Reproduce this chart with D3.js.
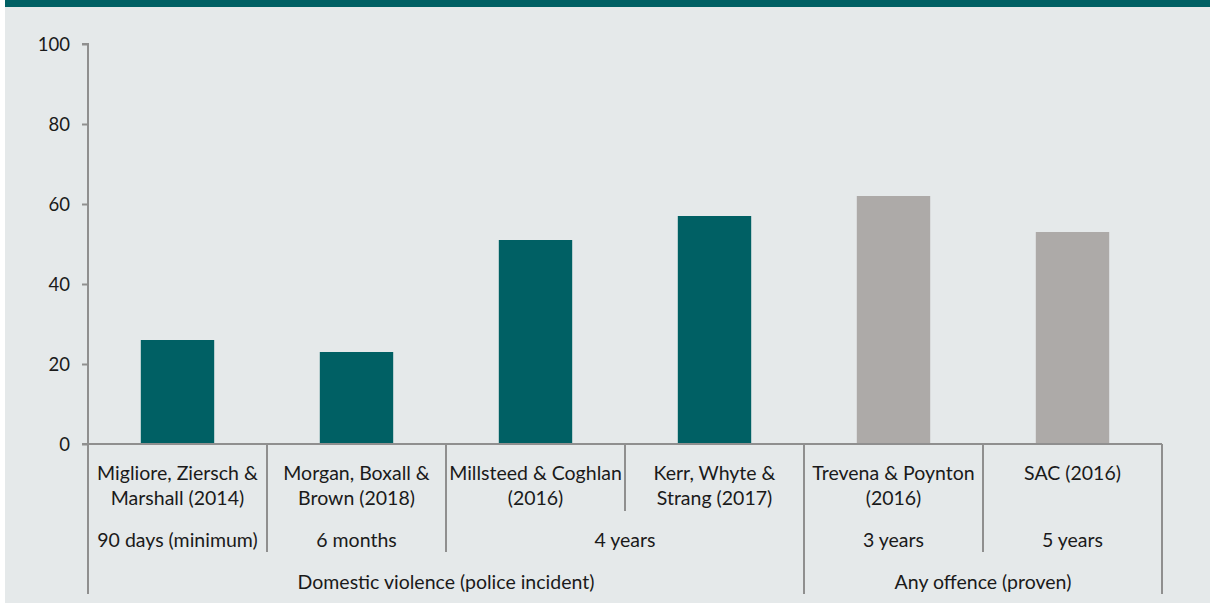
<!DOCTYPE html>
<html>
<head>
<meta charset="utf-8">
<script src="https://cdn.jsdelivr.net/npm/d3@7"></script>
<style>
  html, body { margin: 0; padding: 0; background: #ffffff; }
  svg { display: block; }
  text { font-family: Lato, "Open Sans", sans-serif; fill: #1a1a1a; }
</style>
</head>
<body>
<svg id="chart" width="1210" height="605"></svg>
<script>
// ---- data ----
const categories = [
  "Migliore, Ziersch &|Marshall (2014)",
  "Morgan, Boxall &|Brown (2018)",
  "Millsteed & Coghlan|(2016)",
  "Kerr, Whyte &|Strang (2017)",
  "Trevena & Poynton|(2016)",
  "SAC (2016)"
];
const values = [26, 23, 51, 57, 62, 53];
const durationLabels = ["90 days (minimum)", "6 months", "4 years", "3 years", "5 years"];
const durationSpans = [1, 1, 2, 1, 1];
const groupLabels = ["Domestic violence (police incident)", "Any offence (proven)"];
const groupSpans = [4, 2];
const groupColors = ["#006064", "#adaaa8"];
const yTicks = [0, 20, 40, 60, 80, 100];

// ---- layout ----
const W = 1210, H = 605;
const svg = d3.select("#chart");
const axisColor = "#8f8f8f";

svg.append("rect").attr("x", 5).attr("y", 0).attr("width", W - 5).attr("height", 7).attr("fill", "#006064");
svg.append("rect").attr("x", 5).attr("y", 7).attr("width", W - 5).attr("height", 596).attr("fill", "#e5e9ea");

const x = d3.scaleBand().domain(categories).range([88, 1162]).padding(0);
const y = d3.scaleLinear().domain([0, 100]).range([444, 44]);

// group index per category
const groupOf = [];
groupSpans.forEach((s, gi) => { for (let k = 0; k < s; k++) groupOf.push(gi); });

// bars
const barW = x.bandwidth() * 0.41;
svg.append("g").selectAll("rect").data(categories).join("rect")
  .attr("x", d => x(d) + (x.bandwidth() - barW) / 2)
  .attr("y", (d, i) => y(values[i]))
  .attr("width", barW)
  .attr("height", (d, i) => y(0) - y(values[i]))
  .attr("fill", (d, i) => groupColors[groupOf[i]]);

// y axis
const yAxis = d3.axisLeft(y).tickValues(yTicks).tickSize(6).tickPadding(11);
const gy = svg.append("g").attr("transform", "translate(88,0)").call(yAxis);
gy.select(".domain").attr("stroke", axisColor).attr("stroke-width", 2).attr("d", "M-6,44H0V444");
gy.selectAll(".tick line").attr("stroke", axisColor).attr("stroke-width", 2);
gy.selectAll(".tick text").attr("font-size", 18.5).attr("font-family", "Lato, sans-serif").attr("fill", "#1a1a1a").attr("dy", "0.36em").attr("dx", "-1");

// x axis baseline
svg.append("line").attr("x1", 82).attr("x2", 1162).attr("y1", y(0)).attr("y2", y(0))
  .attr("stroke", axisColor).attr("stroke-width", 2);

// dividers
const durBounds = new Set(); let acc = 0;
durationSpans.forEach(s => { acc += s; durBounds.add(acc); });
const grpBounds = new Set(); acc = 0;
groupSpans.forEach(s => { acc += s; grpBounds.add(acc); });
const bounds = d3.range(categories.length + 1);
const bx = i => i < categories.length ? x(categories[i]) : x.range()[1];
svg.append("g").selectAll("line").data(bounds).join("line")
  .attr("x1", i => bx(i)).attr("x2", i => bx(i))
  .attr("y1", y(0))
  .attr("y2", i => (i === 0 || grpBounds.has(i)) ? 594 : (durBounds.has(i) ? 552 : 511))
  .attr("stroke", axisColor).attr("stroke-width", 2);

// category labels
const fs = 19.5;
const catG = svg.append("g");
categories.forEach((c, i) => {
  const lines = c.split("|");
  const cx = x(c) + x.bandwidth() / 2;
  lines.forEach((ln, j) => {
    catG.append("text").attr("x", cx).attr("y", 472 + j * 25)
      .attr("text-anchor", "middle").attr("dominant-baseline", "central")
      .attr("font-size", fs).text(ln);
  });
});

// duration labels
acc = 0;
durationLabels.forEach((d, i) => {
  const x0 = bx(acc), x1 = bx(acc + durationSpans[i]);
  acc += durationSpans[i];
  svg.append("text").attr("x", (x0 + x1) / 2).attr("y", 539)
    .attr("text-anchor", "middle").attr("dominant-baseline", "central")
    .attr("font-size", fs).text(d);
});

// group labels
acc = 0;
groupLabels.forEach((g, i) => {
  const x0 = bx(acc), x1 = bx(acc + groupSpans[i]);
  acc += groupSpans[i];
  svg.append("text").attr("x", (x0 + x1) / 2).attr("y", 581)
    .attr("text-anchor", "middle").attr("dominant-baseline", "central")
    .attr("font-size", fs).text(g);
});
</script>
</body>
</html>
